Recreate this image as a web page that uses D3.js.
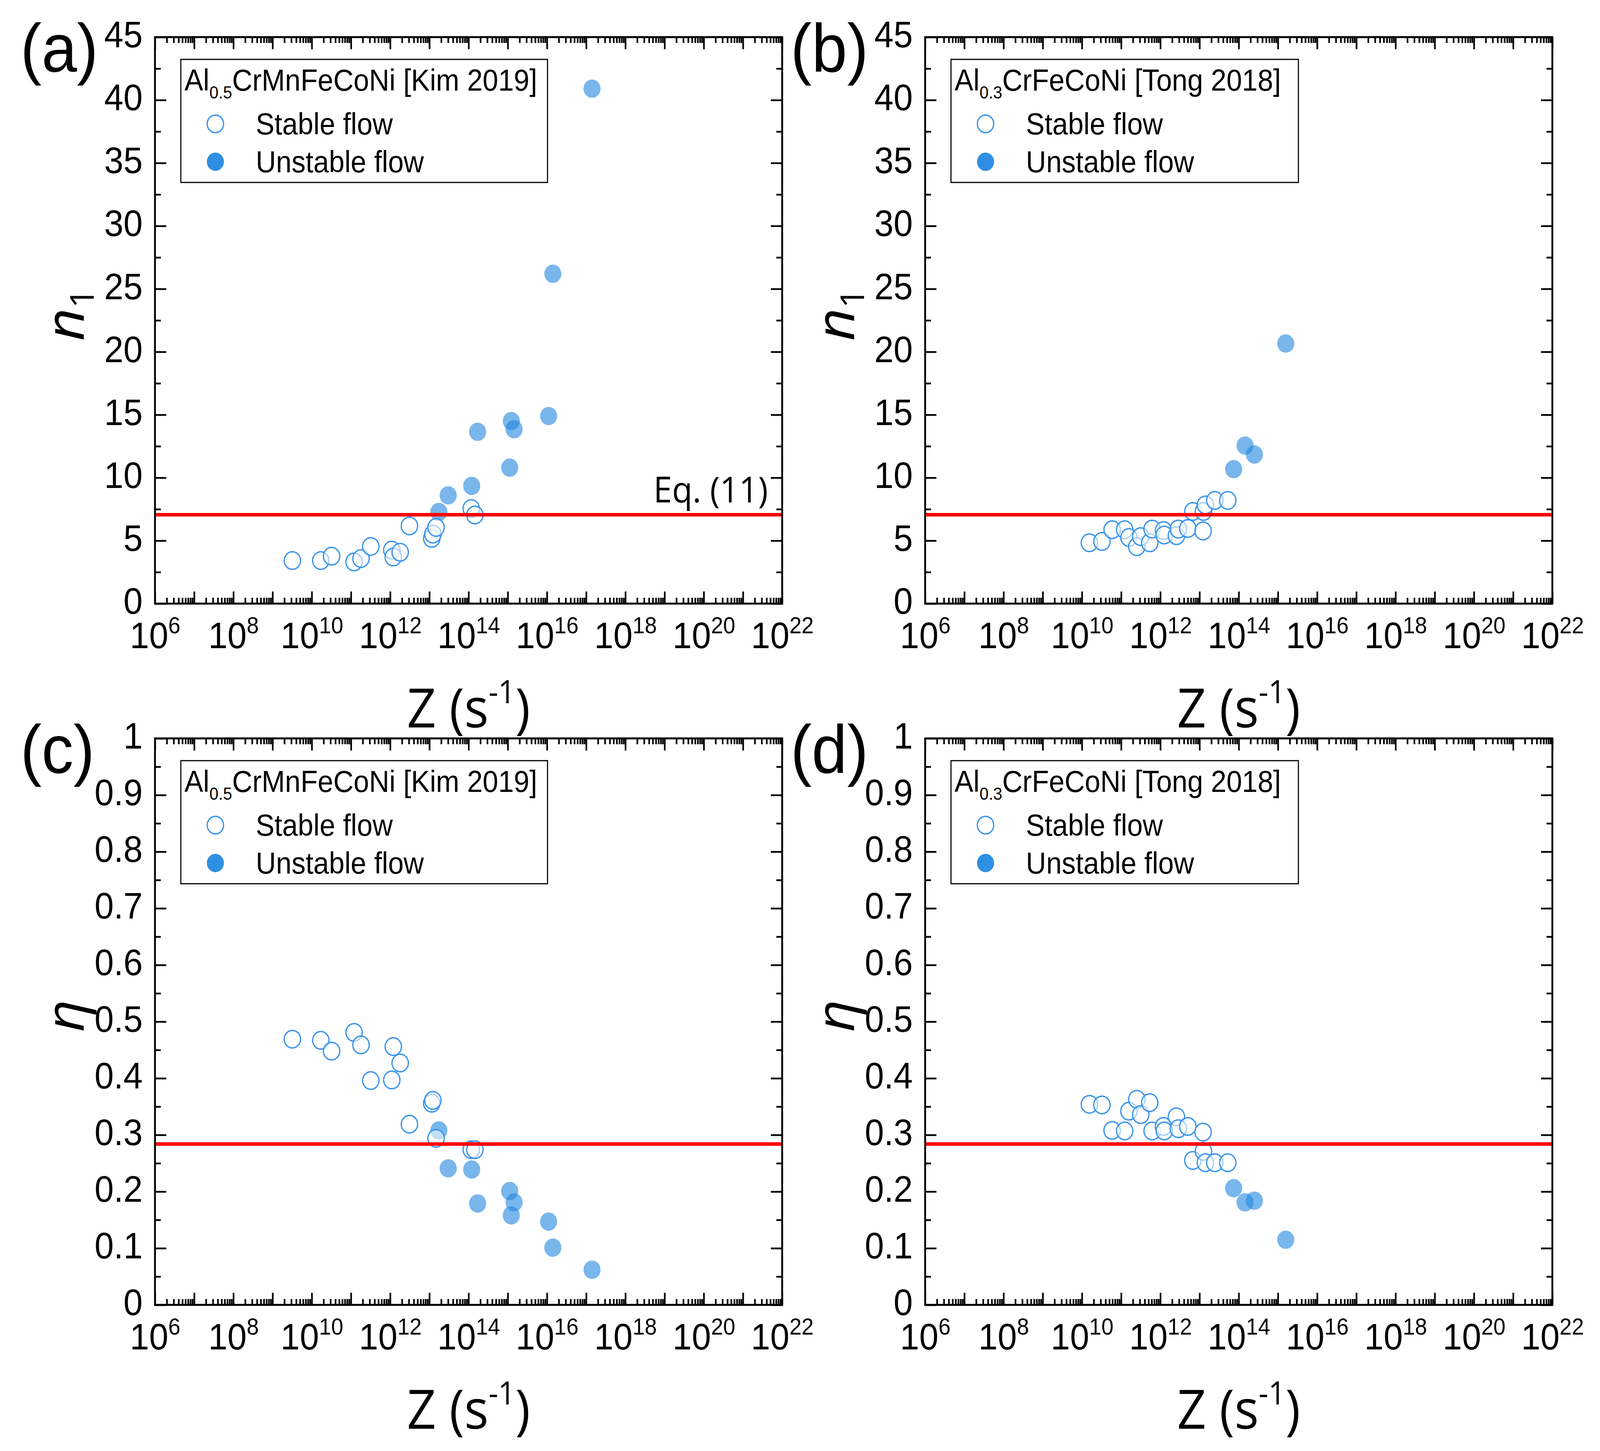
<!DOCTYPE html>
<html>
<head>
<meta charset="utf-8">
<script src="https://cdn.jsdelivr.net/npm/d3@7"></script>
<style>
  html, body { margin: 0; padding: 0; background: #fff; overflow: hidden; }
  svg { display: block; width: 100vw; height: 100vh; }
</style>
</head>
<body>
<div id="chart"></div>
<script>
// ---- data ----
// Al0.5CrMnFeCoNi [Kim 2019]
const kimStableZ = [3.2e9, 1.7e10, 3.2e10, 1.2e11, 1.8e11, 3.2e11, 1.1e12, 1.2e12, 1.8e12, 3.1e12, 1.15e13, 1.23e13, 1.48e13, 1.17e14, 1.45e14];
const kimStableN1 = [3.42, 3.42, 3.77, 3.31, 3.58, 4.54, 4.25, 3.70, 4.08, 6.17, 5.18, 5.52, 6.05, 7.55, 7.04];
const kimStableEta = [0.469, 0.467, 0.448, 0.481, 0.459, 0.396, 0.397, 0.456, 0.427, 0.319, 0.356, 0.361, 0.294, 0.274, 0.274];
const kimUnstableZ = [1.74e13, 3.02e13, 1.2e14, 1.7e14, 1.12e15, 1.23e15, 1.45e15, 1.1e16, 1.41e16, 1.41e17];
const kimUnstableN1 = [7.28, 8.6, 9.35, 13.65, 10.8, 14.5, 13.85, 14.9, 26.2, 40.9];
const kimUnstableEta = [0.308, 0.241, 0.239, 0.179, 0.201, 0.158, 0.181, 0.147, 0.101, 0.062];

// Al0.3CrFeCoNi [Tong 2018]
const tongStableZ = [1.55e10, 3.24e10, 5.89e10, 1.23e11, 1.58e11, 2.51e11, 3.16e11, 5.37e11, 6.17e11, 1.2e12,
  1.26e12, 2.57e12, 2.88e12, 5.01e12, 6.76e12, 1.23e13, 1.26e13, 1.41e13, 2.45e13, 5.25e13];
const tongStableN1 = [4.83, 4.94, 5.87, 5.87, 5.25, 4.52, 5.32, 4.83, 5.92, 5.80,
  5.45, 5.40, 5.92, 5.97, 7.32, 5.77, 7.32, 7.84, 8.20, 8.20];
const tongStableEta = [0.354, 0.353, 0.308, 0.307, 0.342, 0.363, 0.336, 0.357, 0.307, 0.315,
  0.307, 0.332, 0.311, 0.315, 0.255, 0.305, 0.271, 0.251, 0.251, 0.251];
const tongUnstableZ = [7.41e13, 1.45e14, 2.51e14, 1.58e15];
const tongUnstableN1 = [10.68, 12.55, 11.84, 20.66];
const tongUnstableEta = [0.206, 0.181, 0.184, 0.115];

// Eq. (11) criteria
const n1Critical = 7.06;
const etaCritical = 0.284;

// ticks
const xMajorTicks = [1e6, 1e7, 1e8, 1e9, 1e10, 1e11, 1e12, 1e13, 1e14, 1e15, 1e16, 1e17, 1e18, 1e19, 1e20, 1e21, 1e22];
const xLabelTicks = [1e6, 1e8, 1e10, 1e12, 1e14, 1e16, 1e18, 1e20, 1e22];
const xLabelExps = ['6', '8', '10', '12', '14', '16', '18', '20', '22'];
const minorMultipliers = [2, 3, 4, 5, 6, 7, 8, 9];
const n1Ticks = [0, 5, 10, 15, 20, 25, 30, 35, 40, 45];
const n1MinorTicks = [2.5, 7.5, 12.5, 17.5, 22.5, 27.5, 32.5, 37.5, 42.5];
const etaTicks = [0, 0.1, 0.2, 0.3, 0.4, 0.5, 0.6, 0.7, 0.8, 0.9, 1];
const etaMinorTicks = [0.05, 0.15, 0.25, 0.35, 0.45, 0.55, 0.65, 0.75, 0.85, 0.95];

// ---- layout ----
const W = 4398, H = 3714;
const PW = 1724, PH = 1450;
const ARIAL = '"Liberation Sans", Arial, sans-serif';
const SEGOE = '"Open Sans", "Noto Sans", sans-serif';
const OPEN_STROKE = '#3a94ea';
const FILL = '#1f86e0';

// fill the whole window with the figure frame
const svg = d3.select('#chart').append('svg')
  .attr('viewBox', `0 0 ${W} ${H}`)
  .attr('preserveAspectRatio', 'none')
  .style('background', '#fff');

const panels = [
  {
    label: '(a)', left: 426, top: 95, yDomain: [0, 45], yTicks: n1Ticks, yMinor: n1MinorTicks,
    yFormat: d => String(d), yTitle: 'n1', critical: n1Critical, eq: true,
    stableZ: kimStableZ, stableV: kimStableN1, unstableZ: kimUnstableZ, unstableV: kimUnstableN1,
    legend: ['Al', '0.5', 'CrMnFeCoNi [Kim 2019]'], legendWidth: 1008
  },
  {
    label: '(b)', left: 2543, top: 95, yDomain: [0, 45], yTicks: n1Ticks, yMinor: n1MinorTicks,
    yFormat: d => String(d), yTitle: 'n1', critical: n1Critical, eq: false,
    stableZ: tongStableZ, stableV: tongStableN1, unstableZ: tongUnstableZ, unstableV: tongUnstableN1,
    legend: ['Al', '0.3', 'CrFeCoNi [Tong 2018]'], legendWidth: 955
  },
  {
    label: '(c)', left: 426, top: 1890, yDomain: [0, 1], yTicks: etaTicks, yMinor: etaMinorTicks,
    yFormat: d => (d === 0 || d === 1) ? String(d) : d.toFixed(1), yTitle: 'eta', critical: etaCritical, eq: false,
    stableZ: kimStableZ, stableV: kimStableEta, unstableZ: kimUnstableZ, unstableV: kimUnstableEta,
    legend: ['Al', '0.5', 'CrMnFeCoNi [Kim 2019]'], legendWidth: 1008
  },
  {
    label: '(d)', left: 2543, top: 1890, yDomain: [0, 1], yTicks: etaTicks, yMinor: etaMinorTicks,
    yFormat: d => (d === 0 || d === 1) ? String(d) : d.toFixed(1), yTitle: 'eta', critical: etaCritical, eq: false,
    stableZ: tongStableZ, stableV: tongStableEta, unstableZ: tongUnstableZ, unstableV: tongUnstableEta,
    legend: ['Al', '0.3', 'CrFeCoNi [Tong 2018]'], legendWidth: 955
  }
];

const xMinorTicks = [];
xMajorTicks.slice(0, -1).forEach(t => minorMultipliers.forEach(m => xMinorTicks.push(t * m)));

function addTicks(g, gen, tx, ty, values, size) {
  const a = g.append('g')
    .attr('transform', `translate(${tx},${ty})`)
    .call(gen.tickValues(values).tickSizeInner(-size).tickSizeOuter(0).tickFormat(() => ''));
  a.select('.domain').remove();
  a.selectAll('line').attr('stroke', '#000').attr('stroke-width', 4.5);
  return a;
}

function drawPanel(p) {
  const g = svg.append('g');
  const bottom = p.top + PH;
  const right = p.left + PW;

  const x = d3.scaleLog().domain([1e6, 1e22]).range([p.left, right]);
  const y = d3.scaleLinear().domain(p.yDomain).range([bottom, p.top]);

  // ticks on all four sides, pointing inward
  addTicks(g, d3.axisBottom(x), 0, bottom, xMajorTicks, 31);
  addTicks(g, d3.axisBottom(x), 0, bottom, xMinorTicks, 15);
  addTicks(g, d3.axisTop(x), 0, p.top, xMajorTicks, 31);
  addTicks(g, d3.axisTop(x), 0, p.top, xMinorTicks, 15);
  addTicks(g, d3.axisRight(y), right, 0, p.yTicks, 31);
  addTicks(g, d3.axisRight(y), right, 0, p.yMinor, 16);
  addTicks(g, d3.axisLeft(y), p.left, 0, p.yMinor, 16);

  // left axis with labels
  const yAxis = g.append('g')
    .attr('transform', `translate(${p.left},0)`)
    .call(d3.axisLeft(y).tickValues(p.yTicks).tickSizeInner(-31).tickSizeOuter(0).tickPadding(34).tickFormat(p.yFormat));
  yAxis.select('.domain').remove();
  yAxis.selectAll('line').attr('stroke', '#000').attr('stroke-width', 4.5);
  yAxis.attr('font-family', ARIAL).attr('font-size', 95);
  yAxis.selectAll('text').attr('fill', '#000').attr('dy', '0.27em');

  // bottom labels 10^n
  const xAxis = g.append('g')
    .attr('transform', `translate(0,${bottom})`)
    .call(d3.axisBottom(x).tickValues(xLabelTicks).tickSize(0).tickFormat(() => ''));
  xAxis.select('.domain').remove();
  xAxis.attr('font-family', ARIAL).attr('font-size', 95);
  xAxis.selectAll('text')
    .attr('y', 114)
    .attr('dy', null)
    .attr('fill', '#000')
    .each(function (d, i) {
      const t = d3.select(this);
      t.append('tspan').text('10');
      t.append('tspan').attr('font-size', 60).attr('dy', -38).text(xLabelExps[i]);
    });

  // unstable (filled, translucent)
  g.append('g').selectAll('circle')
    .data(d3.zip(p.unstableZ, p.unstableV))
    .join('circle')
    .attr('cx', d => x(d[0]))
    .attr('cy', d => y(d[1]))
    .attr('r', 23.5)
    .attr('fill', FILL)
    .attr('fill-opacity', 0.6);

  // stable (open)
  g.append('g').selectAll('circle')
    .data(d3.zip(p.stableZ, p.stableV))
    .join('circle')
    .attr('cx', d => x(d[0]))
    .attr('cy', d => y(d[1]))
    .attr('r', 22.5)
    .attr('fill', '#fff')
    .attr('fill-opacity', 0.55)
    .attr('stroke', OPEN_STROKE)
    .attr('stroke-width', 3.5);

  // criterion line
  g.append('line')
    .attr('x1', p.left).attr('x2', right)
    .attr('y1', y(p.critical)).attr('y2', y(p.critical))
    .attr('stroke', '#ff0000')
    .attr('stroke-width', 9);

  if (p.eq) {
    g.append('text')
      .attr('x', right - 39)
      .attr('y', y(p.critical) - 32)
      .attr('text-anchor', 'end')
      .attr('font-family', SEGOE)
      .attr('font-size', 92)
      .text('Eq. (11)');
  }

  // legend
  const lg = g.append('g').attr('transform', `translate(${p.left},${p.top})`);
  lg.append('rect')
    .attr('x', 71).attr('y', 57)
    .attr('width', p.legendWidth).attr('height', 315)
    .attr('fill', '#fff')
    .attr('stroke', '#000')
    .attr('stroke-width', 3);
  const title = lg.append('text')
    .attr('x', 81).attr('y', 137)
    .attr('font-family', ARIAL)
    .attr('font-size', 77);
  title.append('tspan').text(p.legend[0]);
  title.append('tspan').attr('font-size', 45).attr('dy', 20).text(p.legend[1]);
  title.append('tspan').attr('dy', -20).text(p.legend[2]);

  lg.append('circle')
    .attr('cx', 166).attr('cy', 222).attr('r', 22.5)
    .attr('fill', '#fff')
    .attr('stroke', OPEN_STROKE)
    .attr('stroke-width', 3.5);
  lg.append('circle')
    .attr('cx', 166).attr('cy', 319).attr('r', 23.5)
    .attr('fill', '#2f8fe3');
  lg.append('text')
    .attr('x', 277).attr('y', 249)
    .attr('font-family', ARIAL).attr('font-size', 77)
    .text('Stable flow');
  lg.append('text')
    .attr('x', 277).attr('y', 346)
    .attr('font-family', ARIAL).attr('font-size', 77)
    .text('Unstable flow');

  // frame
  g.append('rect')
    .attr('x', p.left).attr('y', p.top)
    .attr('width', PW).attr('height', PH)
    .attr('fill', 'none')
    .attr('stroke', '#000')
    .attr('stroke-width', 5);

  // x title
  const xt = g.append('text')
    .attr('x', p.left + PW / 2)
    .attr('y', bottom + 317)
    .attr('text-anchor', 'middle')
    .attr('font-family', SEGOE)
    .attr('font-size', 140);
  xt.append('tspan').text('Z (s');
  xt.append('tspan').attr('font-size', 82).attr('dy', -62).text('-1');
  xt.append('tspan').attr('dy', 62).text(')');

  // y title
  const yt = g.append('text')
    .attr('transform', `translate(${p.left - 196},${(p.top + bottom) / 2 - 15}) rotate(-90)`)
    .attr('text-anchor', 'middle')
    .attr('font-family', SEGOE)
    .attr('font-style', 'italic')
    .attr('font-size', 145);
  if (p.yTitle === 'n1') {
    yt.append('tspan').text('n');
    yt.append('tspan').attr('font-size', 90).attr('dy', 28).attr('font-style', 'normal').text('1');
  } else {
    yt.text('η');
  }

  // panel label
  g.append('text')
    .attr('x', p.left - 370)
    .attr('y', p.top + 88)
    .attr('font-family', ARIAL)
    .attr('font-size', 175)
    .text(p.label);
}

panels.forEach(drawPanel);
</script>
</body>
</html>
